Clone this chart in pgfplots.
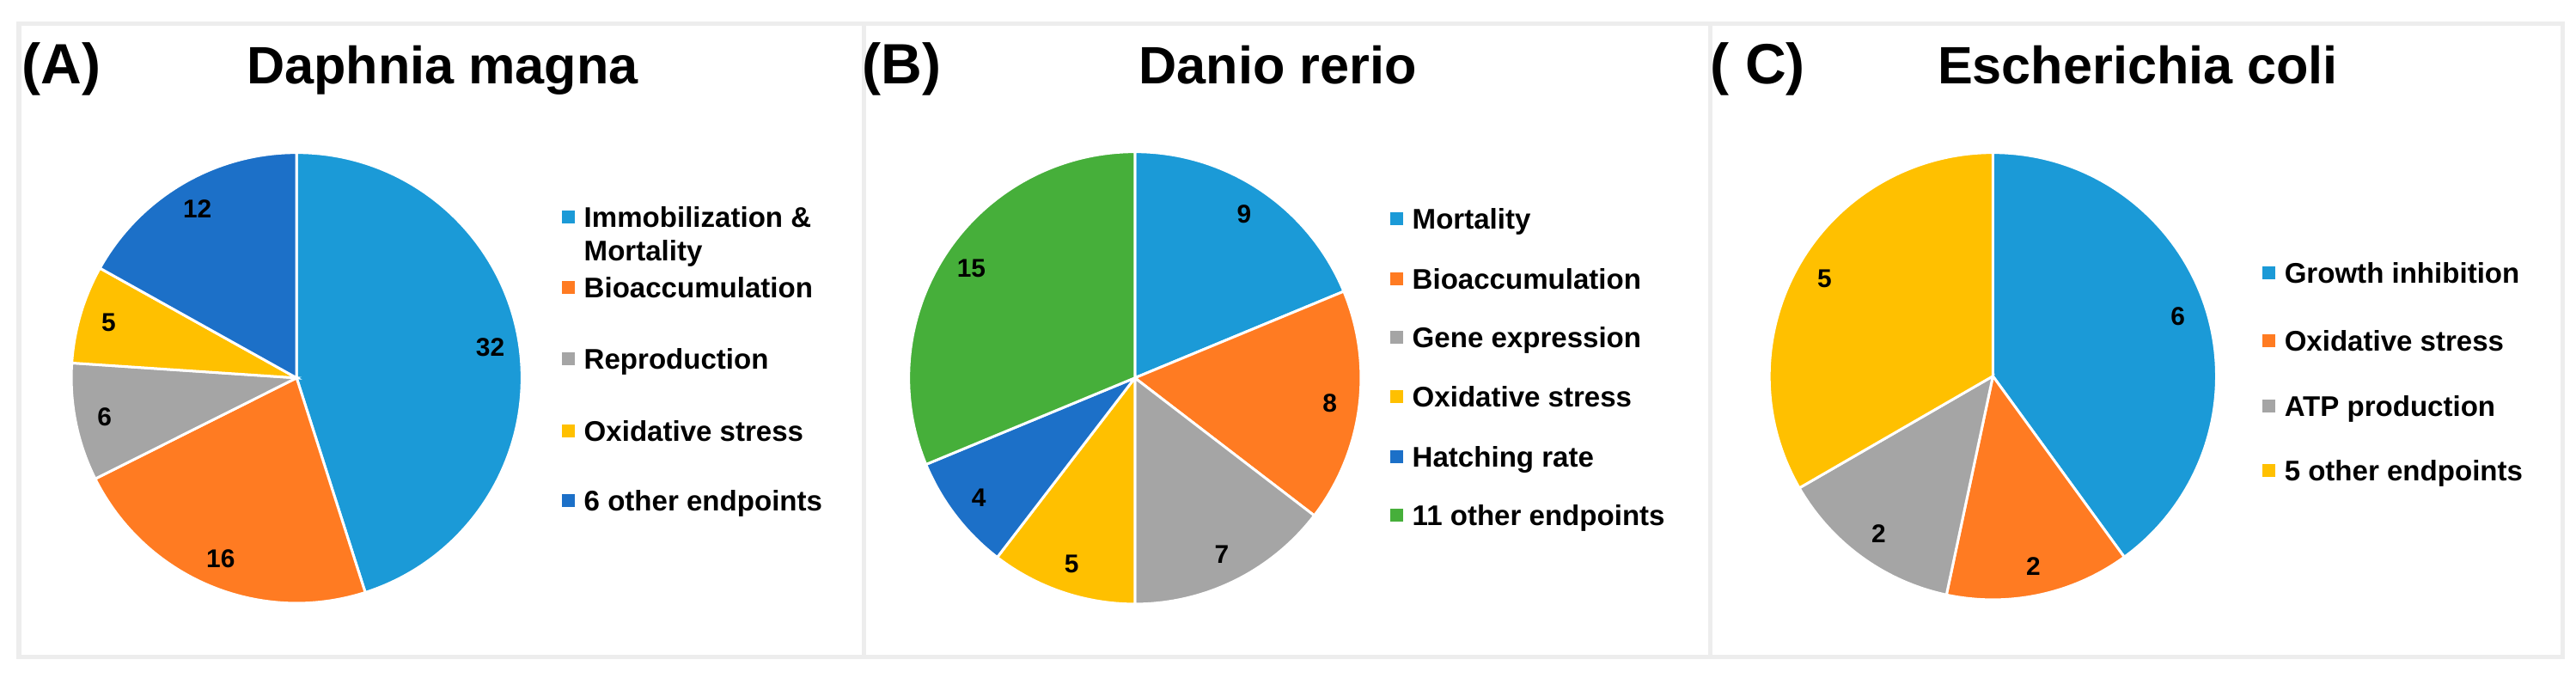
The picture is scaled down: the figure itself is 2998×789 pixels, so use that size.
\documentclass[border=0pt]{standalone}
\usepackage{fontspec}
\setmainfont{Liberation Sans}
\usepackage{pgfplots}
\pgfplotsset{compat=1.18}
\usepackage{pgfplotstable}

\definecolor{cblue}{HTML}{1B9AD7}
\definecolor{corange}{HTML}{FF7B22}
\definecolor{cgray}{HTML}{A5A5A5}
\definecolor{cyellow}{HTML}{FFC000}
\definecolor{cdblue}{HTML}{1C70C8}
\definecolor{cgreen}{HTML}{46AF3A}

% counts per endpoint, clockwise from 12 o'clock
\pgfplotstableread{
v c
32 cblue
16 corange
6 cgray
5 cyellow
12 cdblue
}\tabA
\pgfplotstableread{
v c
9 cblue
8 corange
7 cgray
5 cyellow
4 cdblue
15 cgreen
}\tabB
\pgfplotstableread{
v c
6 cblue
2 corange
2 cgray
5 cyellow
}\tabC

\newcommand\piefont{\bfseries\fontsize{8.5}{10}\selectfont}

% builds \piecmds from table #1, radius #2 on the canvas
\newcommand\buildpie[2]{%
  \pgfplotstablegetrowsof{#1}\pgfmathtruncatemacro\nr{\pgfplotsretval-1}%
  \gdef\pietot{0}%
  \foreach \i in {0,...,\nr}{%
    \pgfplotstablegetelem{\i}{v}\of{#1}%
    \pgfmathsetmacro\tmp{\pietot+\pgfplotsretval}\xdef\pietot{\tmp}}%
  \gdef\piecum{0}\gdef\piecmds{}%
  \foreach \i in {0,...,\nr}{%
    \pgfplotstablegetelem{\i}{v}\of{#1}\let\pv\pgfplotsretval
    \pgfplotstablegetelem{\i}{c}\of{#1}\let\pc\pgfplotsretval
    \pgfmathsetmacro\pa{90-(\piecum/\pietot)*360}%
    \pgfmathsetmacro\pb{90-((\piecum+\pv)/\pietot)*360}%
    \pgfmathsetmacro\pmid{(\pa+\pb)/2}%
    \pgfmathsetmacro\sx{cos(\pa)}\pgfmathsetmacro\sy{sin(\pa)}%
    \pgfmathsetmacro\lx{0.87*cos(\pmid)}\pgfmathsetmacro\ly{0.87*sin(\pmid)}%
    \xdef\piecmds{\unexpanded\expandafter{\piecmds}%
      \noexpand\fill[fill=\pc, draw=white, line width=0.03cm] (axis cs:0,0) -- (axis cs:\sx,\sy)
        arc[start angle=\pa, end angle=\pb, radius=#2] -- cycle;
      \noexpand\node[font=\noexpand\piefont] at (axis cs:\lx,\ly) {\pv};}%
    \pgfmathsetmacro\tmp{\piecum+\pv}\xdef\piecum{\tmp}}%
}

\newcommand\legfont{\bfseries\fontsize{9.4}{11}\selectfont}
\newcommand\legitem[4]{%
  \fill[#3] (#1-7.5,#2-7.5) rectangle (#1+7.5,#2+7.5);
  \node[anchor=base west, inner sep=0, font=\legfont] at (#1+18,#2-11.5) {#4};}

\pgfplotsset{pie/.style={hide axis, scale only axis, clip=false,
  xmin=-1, xmax=1, ymin=-1, ymax=1, anchor=center}}

\begin{document}
\begin{tikzpicture}[x=0.01cm, y=0.01cm]
\useasboundingbox (0,0) rectangle (2998,789);

% panel frames
\draw[black!7, line width=0.05cm] (22,24) rectangle (1005,761);
\draw[black!7, line width=0.05cm] (1005,24) rectangle (1990,761);
\draw[black!7, line width=0.05cm] (1990,24) rectangle (2982,761);

% titles
\tikzset{panel/.style={anchor=base west, inner sep=0, font=\bfseries\fontsize{18.8}{20}\selectfont},
  ptitle/.style={anchor=base, inner sep=0, font=\bfseries\fontsize{17.4}{20}\selectfont}}
\node[panel] at (25,691) {(A)};
\node[ptitle] at (515,691) {Daphnia magna};
\node[panel] at (1003,691) {(B)};
\node[ptitle] at (1487,691) {Danio rerio};
\node[panel] at (1990,691) {( C)};
\node[ptitle] at (2488,691) {Escherichia coli};

\buildpie{\tabA}{2.62cm}
\begin{axis}[pie, at={(3.45cm,3.49cm)}, width=5.24cm, height=5.24cm]
\addplot[draw=none] coordinates {(0,0)};
\piecmds
\end{axis}

\buildpie{\tabB}{2.63cm}
\begin{axis}[pie, at={(13.20cm,3.49cm)}, width=5.26cm, height=5.26cm]
\addplot[draw=none] coordinates {(0,0)};
\piecmds
\end{axis}

\buildpie{\tabC}{2.6cm}
\begin{axis}[pie, at={(23.18cm,3.51cm)}, width=5.2cm, height=5.2cm]
\addplot[draw=none] coordinates {(0,0)};
\piecmds
\end{axis}

% legends
\legitem{661}{536}{cblue}{Immobilization \&}
\node[anchor=base west, inner sep=0, font=\legfont] at (679,485.5) {Mortality};
\legitem{661}{454}{corange}{Bioaccumulation}
\legitem{661}{371}{cgray}{Reproduction}
\legitem{661}{287}{cyellow}{Oxidative stress}
\legitem{661}{206}{cdblue}{6 other endpoints}

\legitem{1625}{534}{cblue}{Mortality}
\legitem{1625}{464}{corange}{Bioaccumulation}
\legitem{1625}{396}{cgray}{Gene expression}
\legitem{1625}{327}{cyellow}{Oxidative stress}
\legitem{1625}{257}{cdblue}{Hatching rate}
\legitem{1625}{189}{cgreen}{11 other endpoints}

\legitem{2640}{471}{cblue}{Growth inhibition}
\legitem{2640}{392}{corange}{Oxidative stress}
\legitem{2640}{316}{cgray}{ATP production}
\legitem{2640}{241}{cyellow}{5 other endpoints}
\end{tikzpicture}
\end{document}
